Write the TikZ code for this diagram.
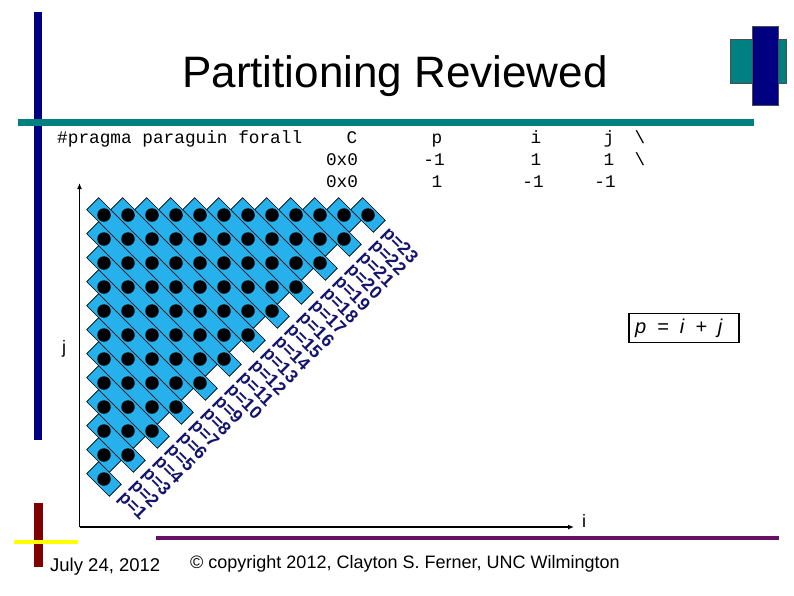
\documentclass[tikz,border=0pt]{standalone}
\usepackage{fontspec}
\setmainfont{Liberation Sans}
\setmonofont{Liberation Mono}
\usetikzlibrary{arrows.meta,calc,positioning}
\definecolor{barnavy}{RGB}{0,0,128}
\definecolor{lineteal}{RGB}{0,128,128}
\definecolor{barred}{RGB}{128,0,0}
\definecolor{lineyellow}{RGB}{255,255,0}
\definecolor{linepurple}{RGB}{102,16,102}
\definecolor{bandblue}{RGB}{38,176,236}
\definecolor{labelnavy}{RGB}{20,20,110}
\tikzset{
  band/.style={draw=black,line width=0.6pt,fill=bandblue,rotate=-45,minimum height=17pt,inner sep=0pt},
  gridpt/.style={circle,fill=black,minimum size=13.5pt,inner sep=0pt},
  plabel/.style={anchor=west,rotate=-45,inner sep=0pt,text=labelnavy,font=\fontsize{18}{18}\selectfont\bfseries},
  codetext/.style={anchor=base,inner sep=0pt,font=\fontsize{17.75}{20}\selectfont\ttfamily},
  axisline/.style={line width=1.6pt,-{Latex[length=6pt,width=5pt]}}
}

\begin{document}
\begin{tikzpicture}[x=1pt,y=-1pt]
  \useasboundingbox (0,0) rectangle (794,595);

  % --- Slide frame ---
  \fill[barnavy] (34,12) rectangle (42,440);
  \fill[lineteal] (18,119) rectangle (754,126);
  \filldraw[fill=lineteal,draw=black!70,line width=0.5pt] (730,39) rectangle (786,83);
  \filldraw[fill=barnavy,draw=black!70,line width=0.5pt] (752,26) rectangle (778,105);
  \fill[barred] (34,503) rectangle (43,567);
  \fill[lineyellow] (14,540) rectangle (78,544);
  \fill[linepurple] (156,536) rectangle (779,540);

  \node[anchor=base,inner sep=0pt,font=\fontsize{44}{50}\selectfont] (title) at (395,87) {Partitioning Reviewed};

  % --- Pragma line ---
  \node[codetext,anchor=base west] (pragma) at (57,143.5) {\#pragma paraguin forall};
  \node[codetext] (hC) at (352,143.5) {C};
  \node[codetext] (hp) at (437,143.5) {p};
  \node[codetext] (hi) at (536,143.5) {i};
  \node[codetext] (hj) at (609,143.5) {j};
  \node[codetext] (hbs) at (640,143.5) {\textbackslash};

  \node[codetext] (aC) at (342,165) {0x0};
  \node[codetext] (ap) at (434,165) {-1};
  \node[codetext] (ai) at (536,165) {1};
  \node[codetext] (aj) at (609,165) {1};
  \node[codetext] (abs) at (640,165) {\textbackslash};

  \node[codetext] (bC) at (342,187) {0x0};
  \node[codetext] (bp) at (437,187) {1};
  \node[codetext] (bi) at (533,187) {-1};
  \node[codetext] (bj) at (605,187) {-1};

  % --- Iteration points ---
  \foreach \j in {1,...,12}
    \foreach \i in {1,...,\j}
      \coordinate (c-\i-\j) at ({104+24*(\i-1)},{215+24*(12-\j)});

  % --- One band per p ---
  \foreach \s in {2,...,24}{
    \pgfmathtruncatemacro{\ia}{max(1,\s-12)}
    \pgfmathtruncatemacro{\ja}{\s-\ia}
    \pgfmathtruncatemacro{\ib}{floor(\s/2)}
    \pgfmathtruncatemacro{\jb}{\s-\ib}
    \pgfmathsetmacro{\bandlen}{(\ib-\ia)*24*sqrt(2)+32}
    \node[band,minimum width=\bandlen pt] (b\s) at ($(c-\ia-\ja)!0.5!(c-\ib-\jb)$) {};
  }

  \foreach \j in {1,...,12}
    \foreach \i in {1,...,\j}
      \node[gridpt] (d-\i-\j) at (c-\i-\j) {};

  % --- Band labels ---
  \foreach \k in {1,...,23}{
    \pgfmathtruncatemacro{\s}{\k+1}
    \node[plabel] (p\k) at ({96.5+12*\s},{519.5-12*\s}) {p=\k};
  }

  % --- Axes ---
  \coordinate (origin) at (79.5,527);
  \coordinate (jtip) at (79.5,183);
  \coordinate (itip) at (574,527);
  \draw[axisline] (origin) -- (jtip);
  \draw[axisline] (origin) -- (itip);
  \node[font=\fontsize{18}{18}\selectfont] (ilabel) at (584,521) {i};
  \node[font=\fontsize{18}{18}\selectfont] (jlabel) at (64,349) {j};

  % --- Rule ---
  \node[draw,line width=1.6pt,text width=98pt,inner xsep=6pt,minimum height=29pt,align=left,
        font=\fontsize{20}{20}\selectfont\itshape] (rule) at (684,328)
        {p\hspace{.55em}=\hspace{.55em}i\hspace{.55em}+\hspace{.55em}j};

  % --- Footer ---
  \node[anchor=base west,inner sep=0pt,font=\fontsize{18.5}{20}\selectfont] (date) at (50,571) {July 24, 2012};
  \node[anchor=base west,inner sep=0pt,font=\fontsize{18}{20}\selectfont] (copy) at (190,568) {© copyright 2012, Clayton S. Ferner, UNC Wilmington};
\end{tikzpicture}
\end{document}
